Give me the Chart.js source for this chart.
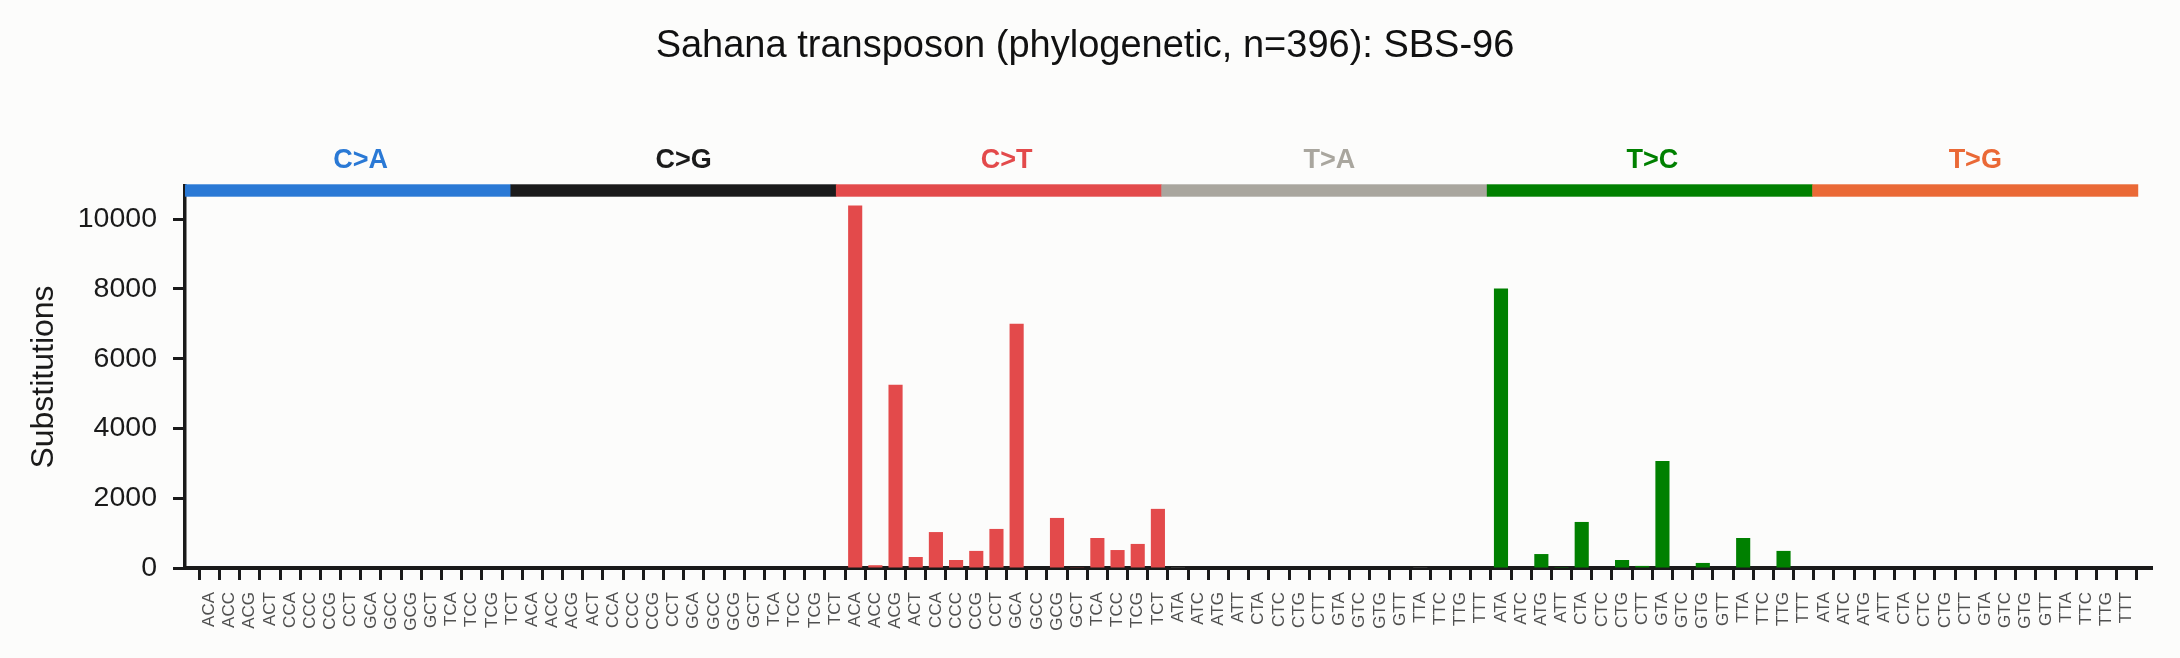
<!DOCTYPE html>
<html>
<head>
<meta charset="utf-8">
<title>SBS-96</title>
<script src="https://cdn.jsdelivr.net/npm/chart.js@4.4.1/dist/chart.umd.min.js"></script>
<style>
    body { margin: 0; background: #fcfcfb; }
    #wrap { width: 2180px; height: 658px; }
</style>
</head>
<body>
<div id="wrap"><canvas id="myChart" width="2180" height="658"></canvas></div>
<script>
var mutationTypes = ['C>A', 'C>G', 'C>T', 'T>A', 'T>C', 'T>G'];
var typeColors = ['#2a79d5', '#1b1b1b', '#e34a4b', '#a9a69e', '#008000', '#ea6936'];

var cContexts = ['ACA', 'ACC', 'ACG', 'ACT', 'CCA', 'CCC', 'CCG', 'CCT',
                 'GCA', 'GCC', 'GCG', 'GCT', 'TCA', 'TCC', 'TCG', 'TCT'];
var tContexts = ['ATA', 'ATC', 'ATG', 'ATT', 'CTA', 'CTC', 'CTG', 'CTT',
                 'GTA', 'GTC', 'GTG', 'GTT', 'TTA', 'TTC', 'TTG', 'TTT'];

// substitution counts per mutation type, in context order
var countsCA = [0, 0, 0, 0, 0, 0, 0, 0, 0, 0, 0, 0, 0, 0, 0, 0];
var countsCG = [0, 0, 0, 40, 0, 0, 0, 0, 0, 0, 0, 0, 0, 0, 0, 0];
var countsCT = [10390, 80, 5250, 315, 1030, 230, 490, 1120, 7000, 0, 1435, 20, 860, 515, 690, 1695];
var countsTA = [20, 0, 0, 0, 0, 0, 0, 0, 0, 0, 0, 0, 20, 0, 0, 0];
var countsTC = [8010, 0, 400, 25, 1320, 0, 230, 60, 3070, 0, 145, 0, 860, 0, 490, 0];
var countsTG = [0, 0, 0, 0, 0, 0, 0, 0, 0, 0, 0, 0, 0, 0, 0, 0];

var yTicks = [0, 2000, 4000, 6000, 8000, 10000];

var allCounts = [countsCA, countsCG, countsCT, countsTA, countsTC, countsTG];
var labels = [];
var points = [];
var barColors = [];
for (var g = 0; g < mutationTypes.length; g++) {
    var ctxList = g < 3 ? cContexts : tContexts;
    for (var k = 0; k < 16; k++) {
        labels.push(ctxList[k]);
        points.push({ x: labels.length - 1, y: allCounts[g][k] });
        barColors.push(typeColors[g]);
    }
}

var FONT = "'Liberation Sans', Arial, sans-serif";

// coloured strip and mutation type names above the bars
var typeBand = {
    id: 'typeBand',
    afterDraw: function (chart) {
        var c = chart.ctx;
        var xs = chart.scales.x;
        var left = chart.chartArea.left;
        var right = xs.getPixelForValue(95.55);
        var w = (right - left) / mutationTypes.length;
        c.save();
        for (var i = 0; i < mutationTypes.length; i++) {
            c.fillStyle = typeColors[i];
            c.fillRect(left + i * w, chart.chartArea.top - 1.7, w + 0.5, 12.4);
            c.font = 'bold 27px ' + FONT;
            c.textAlign = 'center';
            c.textBaseline = 'middle';
            c.fillText(mutationTypes[i], xs.getPixelForValue(i * 16 + 7.5), 161);
        }
        c.restore();
    }
};

var ctx = document.getElementById('myChart').getContext('2d');
var myChart = new Chart(ctx, {
    type: 'bar',
    data: {
        labels: labels,
        datasets: [{
            label: 'Substitutions',
            data: points,
            backgroundColor: barColors,
            borderWidth: 0,
            barPercentage: 0.7,
            categoryPercentage: 1.0
        }]
    },
    options: {
        responsive: false,
        animation: false,
        layout: { padding: { left: 18, right: 28, top: 0, bottom: 0 } },
        plugins: {
            legend: { display: false },
            tooltip: { enabled: false },
            title: {
                display: true,
                text: 'Sahana transposon (phylogenetic, n=396): SBS-96',
                color: '#111111',
                font: { family: FONT, size: 38, weight: 'normal' },
                padding: { top: 24, bottom: 116.4 }
            }
        },
        scales: {
            x: {
                type: 'linear',
                min: -0.7,
                max: 95.75,
                afterFit: function (scale) { scale.height = 90; },
                grid: { drawOnChartArea: false, drawTicks: true, tickLength: 12, tickWidth: 3, tickColor: '#1a1a1a' },
                border: { display: true, width: 4, color: '#1a1a1a' },
                ticks: {
                    stepSize: 1,
                    includeBounds: false,
                    autoSkip: false,
                    minRotation: 90,
                    maxRotation: 90,
                    padding: 12,
                    color: '#505050',
                    font: { family: FONT, size: 17 },
                    callback: function (value) { return labels[Math.round(value)]; }
                }
            },
            y: {
                min: 0,
                max: 10950,
                afterFit: function (scale) { scale.width = 167; },
                afterBuildTicks: function (scale) {
                    scale.ticks = yTicks.map(function (v) { return { value: v }; });
                },
                grid: { drawOnChartArea: false, drawTicks: true, tickLength: 12, tickWidth: 3, tickColor: '#1a1a1a' },
                border: { display: true, width: 3.5, color: '#1a1a1a' },
                ticks: {
                    padding: 16,
                    color: '#1a1a1a',
                    font: { family: FONT, size: 28.5 },
                    callback: function (value) { return String(value); }
                },
                title: {
                    display: true,
                    text: 'Substitutions',
                    color: '#1a1a1a',
                    font: { family: FONT, size: 32 },
                    padding: { top: 7, bottom: 0 }
                }
            }
        }
    },
    plugins: [typeBand]
});
</script>
</body>
</html>
